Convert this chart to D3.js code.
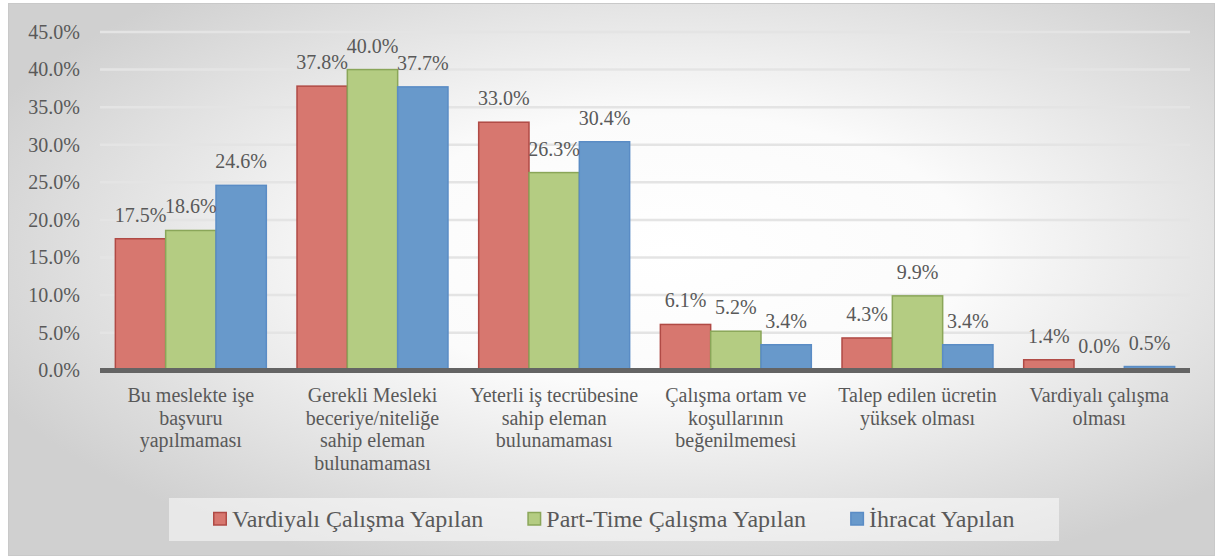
<!DOCTYPE html>
<html>
<head>
<meta charset="utf-8">
<script src="https://cdn.jsdelivr.net/npm/d3@7/dist/d3.min.js"></script>
<style>
    body { margin: 0; background: #fff; }
    #chart text { font-family: "Liberation Serif", "DejaVu Serif", serif; }
</style>
</head>
<body>
<svg id="chart" width="1215" height="559"></svg>
<script>
// category labels, already split into lines like in the original
var categories = [
    ["Bu meslekte işe", "başvuru", "yapılmaması"],
    ["Gerekli Mesleki", "beceriye/niteliğe", "sahip eleman", "bulunamaması"],
    ["Yeterli iş tecrübesine", "sahip eleman", "bulunamaması"],
    ["Çalışma ortam ve", "koşullarının", "beğenilmemesi"],
    ["Talep edilen ücretin", "yüksek olması"],
    ["Vardiyalı çalışma", "olması"]
];

var seriesNames = ["Vardiyalı Çalışma Yapılan", "Part-Time Çalışma Yapılan", "İhracat Yapılan"];

var vardiyali = [17.5, 37.8, 33.0, 6.1, 4.3, 1.4];
var partTime  = [18.6, 40.0, 26.3, 5.2, 9.9, 0.0];
var ihracat   = [24.6, 37.7, 30.4, 3.4, 3.4, 0.5];

var yTicks = [0, 5, 10, 15, 20, 25, 30, 35, 40, 45];

var fills   = ["#d7776f", "#b4cc82", "#6899cb"];
var strokes = ["#b04a45", "#8aa659", "#5a8cc5"];

var allSeries = [vardiyali, partTime, ihracat];

var svg = d3.select("#chart");
var textColor = "#595959";

// background with radial gradient, like the Excel chart style
var defs = svg.append("defs");
var grad = defs.append("radialGradient")
    .attr("id", "bg")
    .attr("cx", "55%").attr("cy", "45%")
    .attr("r", "62%")
    .attr("fx", "55%").attr("fy", "45%");
grad.append("stop").attr("offset", "0%").attr("stop-color", "#ffffff");
grad.append("stop").attr("offset", "40%").attr("stop-color", "#fbfbfb");
grad.append("stop").attr("offset", "100%").attr("stop-color", "#d0d0d0");

svg.append("rect")
    .attr("x", 8.5).attr("y", 3.5)
    .attr("width", 1206).attr("height", 552)
    .attr("fill", "url(#bg)")
    .attr("stroke", "#c9c9c9")
    .attr("stroke-width", 1);

var plotLeft = 100, plotRight = 1190;

var x0 = d3.scaleBand()
    .domain(d3.range(categories.length))
    .range([plotLeft, plotRight]);

var x1 = d3.scaleBand()
    .domain(d3.range(allSeries.length))
    .range([0, x0.bandwidth()])
    .paddingOuter(0.305);

var y = d3.scaleLinear()
    .domain([0, 45])
    .range([370.3, 32]);

// gridlines
svg.append("g").selectAll("line")
    .data(yTicks.slice(1))
    .enter()
    .append("line")
    .attr("x1", plotLeft).attr("x2", plotRight)
    .attr("y1", function (d) { return y(d); })
    .attr("y2", function (d) { return y(d); })
    .attr("stroke", "#e4e4e4")
    .attr("stroke-width", 2.5);

// y axis labels
var yAxis = d3.axisLeft(y)
    .tickValues(yTicks)
    .tickSize(0)
    .tickPadding(20)
    .tickFormat(function (d) { return d3.format(".1f")(d) + "%"; });

var yG = svg.append("g")
    .attr("transform", "translate(" + plotLeft + ",0)")
    .call(yAxis)
    .attr("font-family", null)
    .attr("font-size", 20);
yG.select(".domain").remove();
yG.selectAll("text")
    .attr("fill", textColor);

// bars
var groups = svg.append("g").selectAll("g")
    .data(categories)
    .enter()
    .append("g")
    .attr("transform", function (d, i) { return "translate(" + x0(i) + ",0)"; });

groups.selectAll("rect")
    .data(function (d, i) {
        return allSeries.map(function (s, k) { return { k: k, v: s[i] }; });
    })
    .enter()
    .append("rect")
    .attr("x", function (d) { return x1(d.k); })
    .attr("width", x1.bandwidth())
    .attr("y", function (d) { return y(d.v); })
    .attr("height", function (d) { return y(0) - y(d.v); })
    .attr("fill", function (d) { return fills[d.k]; })
    .attr("stroke", function (d) { return strokes[d.k]; })
    .attr("stroke-width", 1.5);

// data labels
groups.selectAll("text.val")
    .data(function (d, i) {
        return allSeries.map(function (s, k) { return { k: k, v: s[i] }; });
    })
    .enter()
    .append("text")
    .attr("class", "val")
    .attr("x", function (d) { return x1(d.k) + x1.bandwidth() / 2; })
    .attr("y", function (d) { return y(d.v) - 17; })
    .attr("text-anchor", "middle")
    .attr("font-size", 20)
    .attr("fill", textColor)
    .text(function (d) { return d3.format(".1f")(d.v) + "%"; });

// x axis line
svg.append("line")
    .attr("x1", plotLeft).attr("x2", plotRight)
    .attr("y1", y(0) + 0.3).attr("y2", y(0) + 0.3)
    .attr("stroke", "#646464")
    .attr("stroke-width", 5);

// category labels
groups.append("text")
    .attr("text-anchor", "middle")
    .attr("font-size", 20)
    .attr("fill", textColor)
    .selectAll("tspan")
    .data(function (d) { return d; })
    .enter()
    .append("tspan")
    .attr("x", x0.bandwidth() / 2)
    .attr("y", function (d, i) { return 402 + i * 22.7; })
    .text(function (d) { return d; });

// legend
svg.append("rect")
    .attr("x", 169).attr("y", 498)
    .attr("width", 890).attr("height", 43)
    .attr("fill", "#ffffff")
    .attr("fill-opacity", 0.5);

var legendX = 213;
seriesNames.forEach(function (name, k) {
    var g = svg.append("g").attr("transform", "translate(" + legendX + ",0)");
    g.append("rect")
        .attr("x", 0.75).attr("y", 512.5)
        .attr("width", 12.5).attr("height", 12.5)
        .attr("fill", fills[k])
        .attr("stroke", strokes[k])
        .attr("stroke-width", 1.5);
    var t = g.append("text")
        .attr("x", 19).attr("y", 527)
        .attr("font-size", 24)
        .attr("fill", textColor)
        .text(name);
    legendX += 19 + t.node().getComputedTextLength() + 44;
});
</script>
</body>
</html>
